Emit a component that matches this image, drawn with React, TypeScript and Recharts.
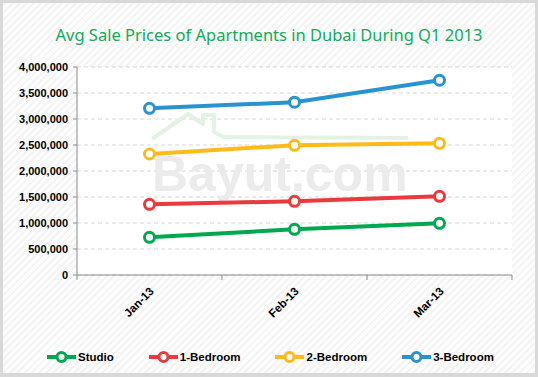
import { LineChart, Line, XAxis, YAxis, CartesianGrid } from 'recharts';

const months = ['Jan-13', 'Feb-13', 'Mar-13'];
const studio = [725000, 879000, 994000];
const oneBed = [1360000, 1417000, 1513000];
const twoBed = [2327000, 2494000, 2533000];
const threeBed = [3205000, 3323000, 3745000];
const yTicks = [0, 500000, 1000000, 1500000, 2000000, 2500000, 3000000, 3500000, 4000000];

const series = [
    { key: 'studio', name: 'Studio', color: '#00a94f', values: studio },
    { key: 'oneBed', name: '1-Bedroom', color: '#e93a3f', values: oneBed },
    { key: 'twoBed', name: '2-Bedroom', color: '#fdbb1a', values: twoBed },
    { key: 'threeBed', name: '3-Bedroom', color: '#2893d3', values: threeBed },
];

const data = months.map((m, i) => {
    const row: any = { x: i, month: m };
    series.forEach(s => { row[s.key] = s.values[i]; });
    return row;
});

// category labels on whole numbers, tick marks between categories
const xTicks = [-0.5, 0, 0.5, 1, 1.5, 2, 2.5];

const font = '"Liberation Sans", Arial, sans-serif';

function XTick(props: any) {
    const { x, y, payload } = props;
    const v = payload.value;
    if (!Number.isInteger(v)) {
        return <line x1={x} y1={y - 8} x2={x} y2={y - 3} stroke="#8c8c8c" strokeWidth={1} />;
    }
    const ax = x + 5;
    const ay = y + 9;
    return (
        <text x={ax} y={ay} transform={`rotate(-45, ${ax}, ${ay})`} textAnchor="end"
            fontFamily={font} fontSize={11.5} fontWeight="bold" fill="#000">
            {months[v]}
        </text>
    );
}

function Watermark() {
    return (
        <g pointerEvents="none">
            <polyline points="152,139 188,114 203,124 203,115 214,115 214,132 224,137 408,138"
                fill="none" stroke="#e4f2e4" strokeWidth={4} strokeLinejoin="round" />
            <text x={152} y={191} fontFamily={font} fontSize={50} fontWeight="bold" fill="#ebebeb">
                Bayut.com
            </text>
        </g>
    );
}

function LegendIcon({ color }: { color: string }) {
    return (
        <svg width={29} height={12} style={{ display: 'block' }}>
            <line x1={0} y1={6} x2={29} y2={6} stroke={color} strokeWidth={4} />
            <circle cx={14.5} cy={6} r={4.5} fill="#fff" stroke={color} strokeWidth={3} />
        </svg>
    );
}

export default function App() {
    return (
        <div style={{
            position: 'fixed', left: 0, top: 0, width: 538, height: 377, boxSizing: 'border-box',
            border: '3px solid #d9d9d9', borderBottomWidth: 4,
            background: 'repeating-linear-gradient(-45deg, #f4f4f4 0px, #f4f4f4 2px, #fcfcfc 2px, #fcfcfc 5px)',
        }}>
            <div style={{
                position: 'absolute', left: -3, top: 20, width: 538, textAlign: 'center',
                fontFamily: '"Noto Sans", sans-serif', fontSize: 16.5, color: '#13ab5a',
            }}>
                Avg Sale Prices of Apartments in Dubai During Q1 2013
            </div>
            <div style={{ position: 'absolute', left: -3, top: -3 }}>
                <LineChart width={538} height={377} data={data}
                    margin={{ top: 67, right: 26, bottom: 0, left: 0 }}>
                    <CartesianGrid vertical={false} stroke="#d6d6d6" strokeDasharray="4 3" fill="#ffffff" />
                    <Watermark />
                    <XAxis dataKey="x" type="number" domain={[-0.5, 2.5]} ticks={xTicks} height={102}
                        interval={0} tickLine={false} axisLine={{ stroke: '#8c8c8c' }} tick={<XTick />} />
                    <YAxis width={77} domain={[0, 4000000]} ticks={yTicks} interval={0}
                        tickSize={4} tickMargin={5} axisLine={{ stroke: '#8c8c8c' }} tickLine={{ stroke: '#8c8c8c' }}
                        tickFormatter={(v: number) => v.toLocaleString('en-US')}
                        tick={{ fontFamily: font, fontSize: 11, fontWeight: 'bold', fill: '#000' }} />
                    {series.map(s => (
                        <Line key={s.key} dataKey={s.key} name={s.name} stroke={s.color} strokeWidth={4}
                            type="linear" isAnimationActive={false}
                            dot={{ r: 5, fill: '#fff', stroke: s.color, strokeWidth: 3 }} />
                    ))}
                </LineChart>
            </div>
            <div style={{ position: 'absolute', left: 44, top: 348, display: 'flex', gap: 35 }}>
                {series.map(s => (
                    <div key={s.key} style={{ display: 'flex', alignItems: 'center' }}>
                        <LegendIcon color={s.color} />
                        <span style={{ fontFamily: font, fontSize: 11.5, fontWeight: 'bold', marginLeft: 2 }}>{s.name}</span>
                    </div>
                ))}
            </div>
        </div>
    );
}
